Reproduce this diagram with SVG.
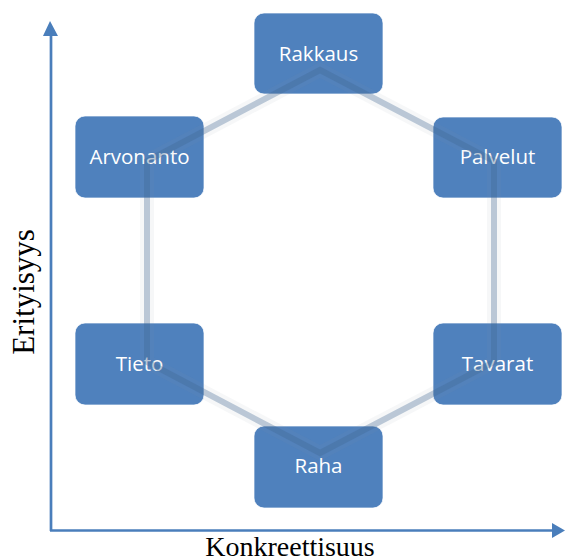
<svg xmlns="http://www.w3.org/2000/svg" width="565" height="560" viewBox="0 0 565 560">
<style>
.box{fill:#4F81BD;stroke:#ffffff;stroke-width:1;stroke-opacity:0.7}
.lbl{font-family:"Open Sans","Noto Sans",sans-serif;font-size:20.5px;fill:#ffffff;text-anchor:middle}
.axis{stroke:#4A7EBB;stroke-width:2.7;fill:none}
.head{fill:#4A7EBB}
.ax{font-family:"Liberation Serif","Times New Roman",serif;fill:#000000;text-anchor:middle}
.halo{fill:none;stroke:#8a96a6;stroke-opacity:0.08;stroke-width:14;stroke-linejoin:round}
.edge{fill:none;stroke:#3F6792;stroke-opacity:0.33;stroke-width:6;stroke-linejoin:miter}
</style>
<rect width="565" height="560" fill="#ffffff"/>
<g id="axes">
<line class="axis" x1="51" y1="531" x2="51" y2="34"/>
<line class="axis" x1="50" y1="530.5" x2="553" y2="530.5"/>
<polygon class="head" points="50,21 58,36 43,36"/>
<polygon class="head" points="565,530.5 552,523 552,538"/>
<text class="ax" font-size="28" x="290" y="556">Konkreettisuus</text>
<text class="ax" font-size="31" transform="translate(34,292) rotate(-90)" x="0" y="0">Erityisyys</text>
</g>
<g id="node-rakkaus"><rect class="box" x="254" y="13" width="129" height="81" rx="10"/><text class="lbl" x="318.5" y="60.5">Rakkaus</text></g>
<g id="node-palvelut"><rect class="box" x="433" y="117" width="129" height="81" rx="10"/><text class="lbl" x="497.5" y="164">Palvelut</text></g>
<g id="node-arvonanto"><rect class="box" x="75" y="116" width="129" height="82" rx="10"/><text class="lbl" x="139.5" y="164">Arvonanto</text></g>
<g id="node-tieto"><rect class="box" x="75" y="323" width="129" height="82" rx="10"/><text class="lbl" x="139.5" y="371">Tieto</text></g>
<g id="node-tavarat"><rect class="box" x="433" y="323" width="129" height="82" rx="10"/><text class="lbl" x="497.5" y="371">Tavarat</text></g>
<g id="node-raha"><rect class="box" x="254" y="426" width="129" height="82" rx="10"/><text class="lbl" x="318.5" y="473">Raha</text></g>
<g id="connectors">
<polygon class="halo" points="320,70 494,161 494,362 320,453 147,362 147,161"/>
<polygon class="edge" points="320,70 494,161 494,362 320,453 147,362 147,161"/>
</g>
</svg>
